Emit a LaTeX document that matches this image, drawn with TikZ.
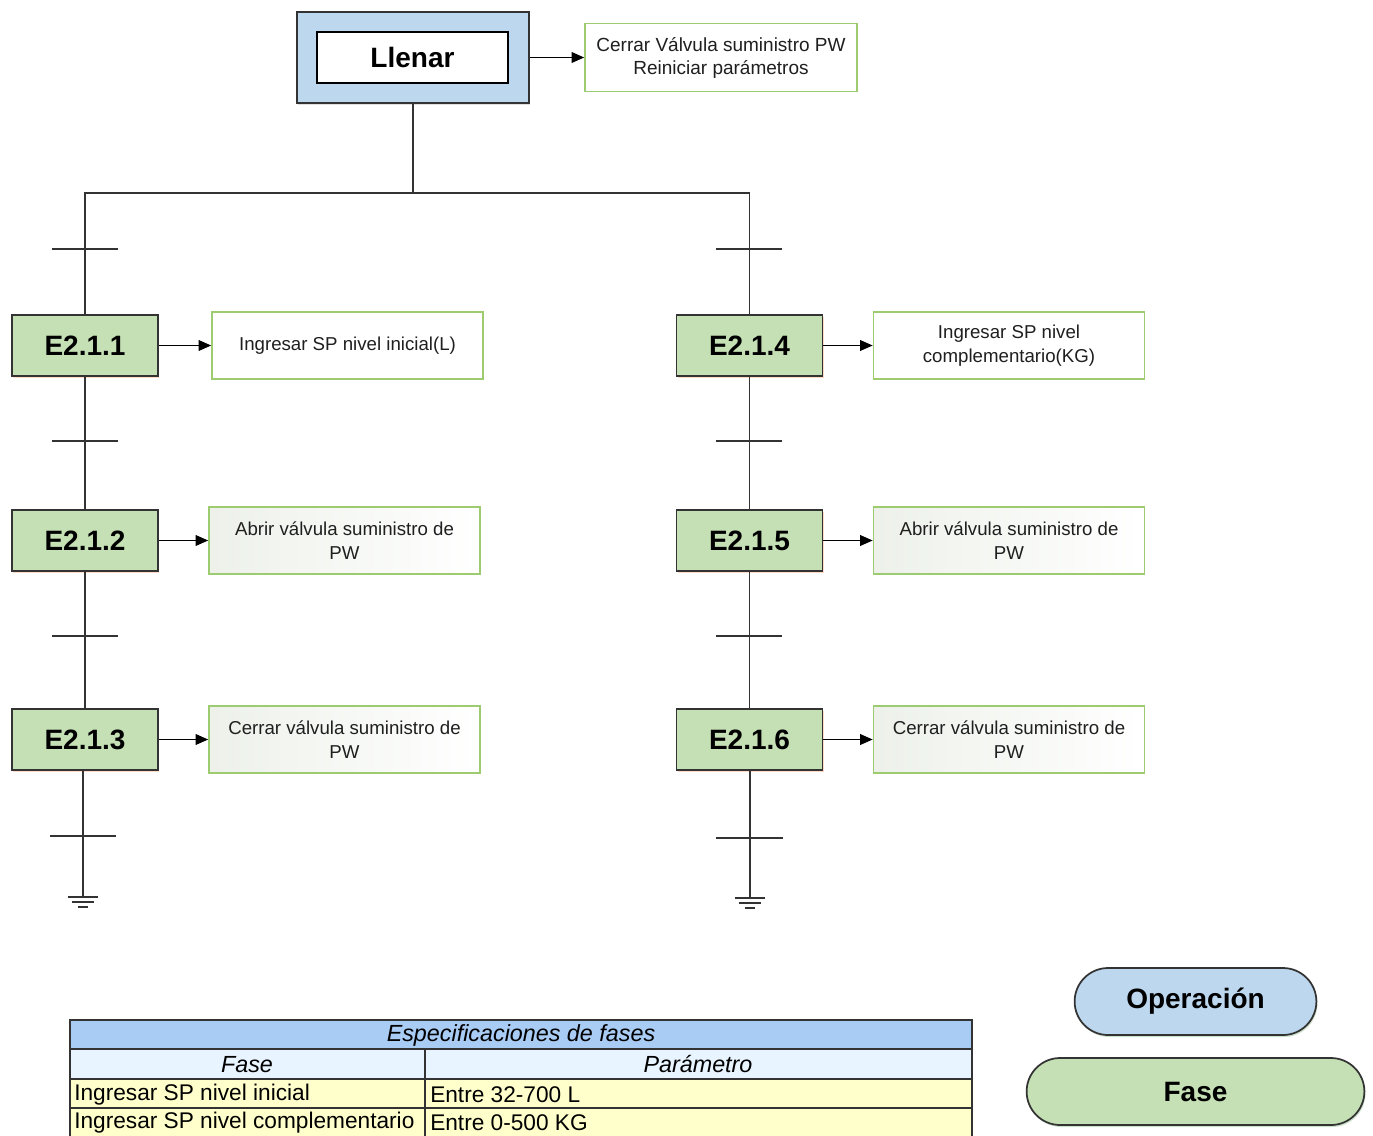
\documentclass[tikz,border=0pt]{standalone}
\usepackage{fontspec}
\setmainfont{Liberation Sans}
\usetikzlibrary{arrows.meta,shadows,shapes.misc}

\definecolor{opblue}{HTML}{BDD7EE}
\definecolor{phgreen}{HTML}{C5E0B4}
\definecolor{actgreen}{HTML}{9DCC70}
\definecolor{lineg}{HTML}{333333}
\definecolor{hdrblue}{HTML}{A9CCF4}
\definecolor{subblue}{HTML}{E8F4FF}
\definecolor{rowyel}{HTML}{FFFFCC}
\definecolor{actfade}{HTML}{EDF1EA}

\tikzset{
  big/.style={font=\fontsize{21}{24}\selectfont\bfseries},
  opbox/.style={rectangle, draw=lineg, line width=1.5pt, fill=opblue,
    minimum width=174pt, minimum height=68.25pt,
    drop shadow={shadow xshift=1pt, shadow yshift=-1.5pt, opacity=0.25}},
  innerbox/.style={rectangle, draw=black, line width=1.5pt, fill=white,
    minimum width=143.25pt, minimum height=38.25pt, big},
  stepbox/.style={rectangle, draw=lineg, line width=1.4pt, fill=phgreen,
    minimum width=109.5pt, minimum height=45.75pt, big,
    drop shadow={shadow xshift=0.8pt, shadow yshift=-1.5pt, fill=orange!70!red, opacity=0.22}},
  actbox/.style={rectangle, draw=actgreen, line width=1.2pt, fill=white,
    minimum width=203.25pt, minimum height=50.25pt, inner sep=0pt,
    align=center, font=\fontsize{14}{18}\selectfont, text=black!88},
  actshade/.style={left color=actfade, right color=white},
  pill/.style={rounded rectangle, draw=lineg, line width=1.3pt,
    minimum height=50.25pt, big,
    drop shadow={shadow xshift=0.8pt, shadow yshift=-1.5pt, fill=green!40!black, opacity=0.2}},
  link/.style={draw=lineg, line width=1.3pt},
  arr/.style={draw=black, line width=1.3pt, -{Triangle[length=9.5pt,width=8pt]}},
  tick/.style={draw=lineg, line width=1.3pt},
  gnd/.style={draw=lineg, line width=1.5pt},
  tabtxt/.style={font=\fontsize{17}{20}\selectfont, inner sep=0pt},
  tabhead/.style={font=\fontsize{17.5}{20}\selectfont\itshape, inner sep=0pt},
}

\begin{document}
\begin{tikzpicture}[x=0.75pt, y=-0.75pt]
\useasboundingbox (0,0) rectangle (1373,1135);

% operation block
\node[opbox] (op) at (413,57.5) {};
\node[innerbox] (llenar) at (412.5,57.5) {Llenar};
\node[actbox, minimum width=204pt, minimum height=51pt,
      font=\fontsize{14.25}{17.25}\selectfont] (opact) at (721,57.5)
      {Cerrar Válvula suministro PW\\Reiniciar parámetros};
\draw[arr] (op.east) -- (opact.west);

% phase steps
\node[stepbox] (e1) at (85,345.5) {E2.1.1};
\node[stepbox] (e2) at (85,540.5) {E2.1.2};
\node[stepbox] (e3) at (85,739.5) {E2.1.3};
\node[stepbox] (e4) at (749.5,345.5) {E2.1.4};
\node[stepbox] (e5) at (749.5,540.5) {E2.1.5};
\node[stepbox] (e6) at (749.5,739.5) {E2.1.6};

% actions of each step
\node[actbox] (a1) at (347.5,345.5) {Ingresar SP nivel inicial(L)};
\node[actbox, actshade] (a2) at (344.5,540.5) {Abrir válvula suministro de\\PW};
\node[actbox, actshade] (a3) at (344.5,739.5) {Cerrar válvula suministro de\\PW};
\node[actbox] (a4) at (1009,345.5) {Ingresar SP nivel\\complementario(KG)};
\node[actbox, actshade] (a5) at (1009,540.5) {Abrir válvula suministro de\\PW};
\node[actbox, actshade] (a6) at (1009,739.5) {Cerrar válvula suministro de\\PW};

\foreach \s/\a in {e1/a1,e2/a2,e3/a3,e4/a4,e5/a5,e6/a6}
  \draw[arr] (\s.east) -- (\a.west);

% branching from the operation
\coordinate (jL) at (85,193);
\coordinate (jR) at (749.5,193);
\draw[link] (op.south) -- (op.south |- jL);
\draw[link] (e1.north) -- (jL) -- (jR) -- (e4.north);
\draw[link] (e1.south) -- (e2.north);
\draw[link] (e2.south) -- (e3.north);
\draw[link] (e4.south) -- (e5.north);
\draw[link] (e5.south) -- (e6.north);

% ends with ground marks
\coordinate (g1) at (83,897);
\coordinate (g2) at (750,898);
\draw[link] (e3.south -| g1) -- (g1);
\draw[link] (e6.south -| g2) -- (g2);
\foreach \g in {g1,g2}{
  \draw[gnd] ([xshift=-11.6pt]\g) -- ([xshift=11.6pt]\g);
  \draw[gnd] ([xshift=-7.9pt,yshift=-3.9pt]\g) -- ([xshift=7.9pt,yshift=-3.9pt]\g);
  \draw[gnd] ([xshift=-4.1pt,yshift=-7.8pt]\g) -- ([xshift=4.1pt,yshift=-7.8pt]\g);
}

% transitions
\foreach \y in {249,441,636}{
  \draw[tick] (52,\y) -- (118,\y);
  \draw[tick] (716,\y) -- (782,\y);
}
\draw[tick] (50,836) -- (116,836);
\draw[tick] (716,838) -- (783,838);

% legend
\node[pill, fill=opblue, minimum width=188pt] (lop) at (1195.5,1001.5) {Operación};
\node[pill, fill=phgreen, minimum width=260pt] (lph) at (1195.5,1091.5) {Fase};

% phase specification table
\fill[hdrblue] (70,1020) rectangle (972,1049);
\fill[subblue] (70,1049) rectangle (972,1079);
\fill[rowyel] (70,1079) rectangle (972,1140);
\draw[draw=lineg, line width=1.3pt] (70,1140) -- (70,1020) -- (972,1020) -- (972,1140);
\draw[draw=lineg, line width=1.2pt] (70,1049) -- (972,1049);
\draw[draw=lineg, line width=1.2pt] (70,1079) -- (972,1079);
\draw[draw=lineg, line width=1.2pt] (70,1108) -- (972,1108);
\draw[draw=lineg, line width=1.2pt] (425,1049) -- (425,1140);

\node[tabhead] (tt) at (521,1035) {Especificaciones de fases};
\node[tabhead] (th1) at (247,1064.5) {Fase};
\node[tabhead] (th2) at (698,1064.5) {Parámetro};
\node[tabtxt, anchor=west] (r1a) at (74,1095) {Ingresar SP nivel inicial};
\node[tabtxt, anchor=west] (r1b) at (430,1095) {Entre 32-700 L};
\node[tabtxt, anchor=west] (r2a) at (74,1123) {Ingresar SP nivel complementario};
\node[tabtxt, anchor=west] (r2b) at (430,1123) {Entre 0-500 KG};
\end{tikzpicture}
\end{document}
